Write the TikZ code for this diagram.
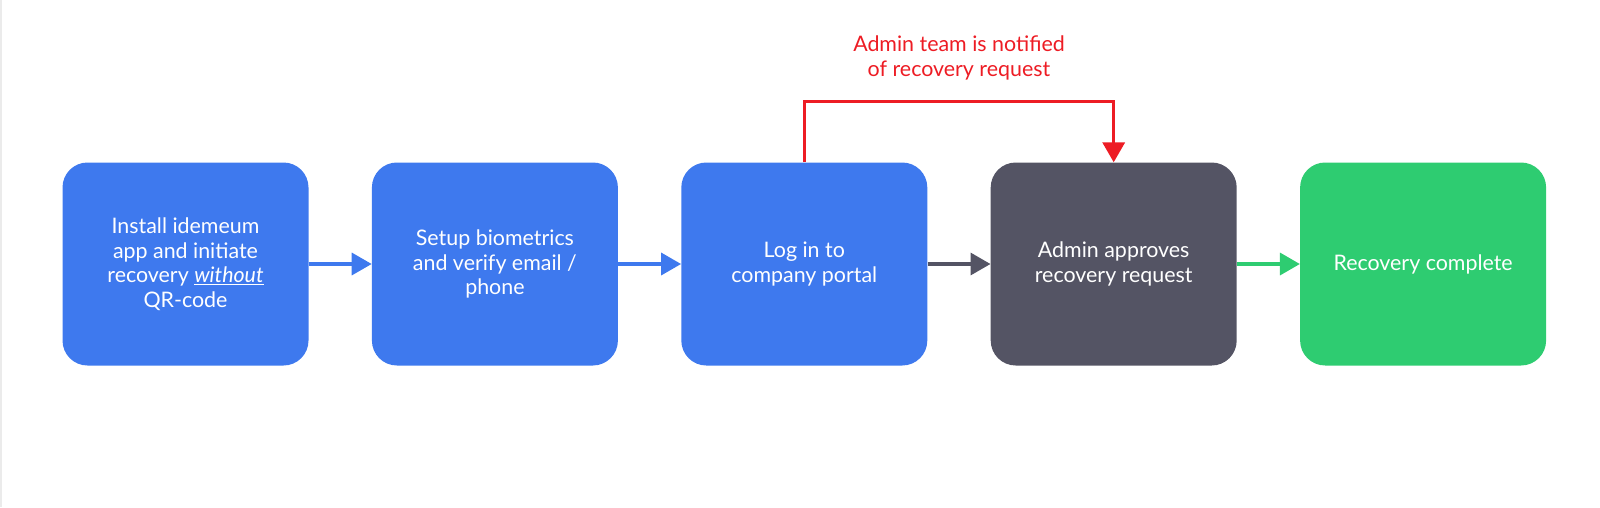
\documentclass[tikz,border=0pt]{standalone}
\usepackage{fontspec}
\setmainfont{Lato}
\usepackage{tikz}
\usetikzlibrary{arrows.meta,positioning,calc}

\definecolor{stepblue}{RGB}{62,121,238}
\definecolor{stepgray}{RGB}{84,84,100}
\definecolor{stepgreen}{RGB}{46,204,113}
\definecolor{alertred}{RGB}{237,28,36}

\begin{document}
\begin{tikzpicture}[
    x=1pt, y=1pt,
    box/.style={rounded corners=25pt, align=center, text=white,
      minimum width=246pt, minimum height=203pt,
      font=\fontsize{21.4}{24.5}\selectfont},
    flow/.style={line width=3.5pt, -{Triangle[length=20pt,width=22pt]}},
    node distance=63pt
  ]
  \useasboundingbox (0,0) rectangle (1600,-507);
  \draw[black!8, line width=1.5pt] (0.75,0) -- (0.75,-507);

  \node[box, fill=stepblue] (install) at (185.5,-264)
    {Install idemeum\\app and initiate\\recovery \underline{\textit{without}}\\QR-code};
  \node[box, fill=stepblue, right=of install] (setup)
    {Setup biometrics\\and verify email /\\phone};
  \node[box, fill=stepblue, right=of setup] (login) {Log in to\\company portal};
  \node[box, fill=stepgray, right=of login] (approve) {Admin approves\\recovery request};
  \node[box, fill=stepgreen, right=of approve] (done) {Recovery complete};

  \draw[flow, stepblue] (install) -- (setup);
  \draw[flow, stepblue] (setup) -- (login);
  \draw[flow, stepgray] (login) -- (approve);
  \draw[flow, stepgreen] (approve) -- (done);

  % notification loop over the top
  \coordinate (loopL) at ([yshift=61pt]login.north);
  \coordinate (loopR) at ([yshift=61pt]approve.north);
  \draw[alertred, line width=3.5pt, -{Triangle[length=20pt,width=22pt]}]
    (login.north) -- (loopL) -- (loopR) -- (approve.north);
  \node[text=alertred, align=center, font=\fontsize{21.4}{24.5}\selectfont]
    (notice) at ($(loopL)!0.5!(loopR)+(0,43.5)$)
    {Admin team is notified\\of recovery request};
\end{tikzpicture}
\end{document}
